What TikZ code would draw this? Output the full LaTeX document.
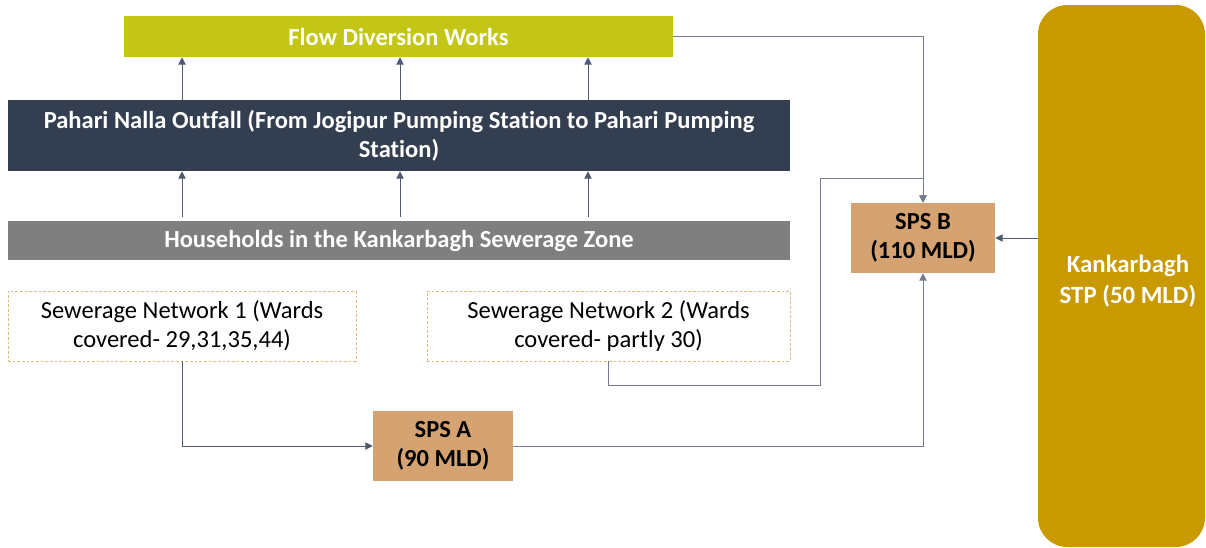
\documentclass[tikz,border=0pt]{standalone}
\usepackage{fontspec}
\setmainfont{Carlito}[Ligatures=NoCommon]
\usetikzlibrary{arrows.meta}
\definecolor{flowc}{RGB}{195,198,20}
\definecolor{pahc}{RGB}{51,63,80}
\definecolor{housec}{RGB}{127,127,127}
\definecolor{spsc}{RGB}{213,163,114}
\definecolor{stpc}{RGB}{200,154,0}
\definecolor{dashc}{RGB}{214,190,120}
\definecolor{arrc}{RGB}{80,92,110}
\tikzset{
  boxw/.style={draw=none, inner sep=0pt, align=center, text=white,
    font=\fontsize{18.4}{21.75}\selectfont\bfseries},
  netbox/.style={draw=dashc, line width=0.6pt, dash pattern=on 2pt off 1.5pt,
    inner sep=0pt, align=center, text=black, font=\fontsize{18.4}{21.75}\selectfont},
  spsbox/.style={fill=spsc, inner sep=0pt, align=center, text=black,
    font=\fontsize{18.4}{21.75}\selectfont\bfseries},
  arr/.style={draw=arrc, line width=0.75pt, -{Triangle[length=5.5pt,width=5.5pt]}},
  conn/.style={draw=arrc!80, line width=0.75pt, -{Triangle[length=5.5pt,width=5.5pt]}}
}
\begin{document}
\begin{tikzpicture}[x=0.75pt,y=-0.75pt]
\useasboundingbox (0,0) rectangle (1206,547);
\node[boxw, fill=flowc, minimum width=549*0.75pt, minimum height=41*0.75pt] (flow) at (398.5,36.5) {Flow Diversion Works};
\node[boxw, fill=pahc, minimum width=782*0.75pt, minimum height=71*0.75pt] (pahari) at (399,135.5) {Pahari Nalla Outfall (From Jogipur Pumping Station to Pahari Pumping\\Station)};
\node[boxw, fill=housec, minimum width=782*0.75pt, minimum height=39*0.75pt] (house) at (399,240.5) {Households in the Kankarbagh Sewerage Zone};
\node[netbox, minimum width=348*0.75pt, minimum height=70*0.75pt] (net1) at (182,326) {Sewerage Network 1 (Wards\\covered- 29,31,35,44)};
\node[netbox, minimum width=363*0.75pt, minimum height=70*0.75pt] (net2) at (608.5,326) {Sewerage Network 2 (Wards\\covered- partly 30)};
\node[spsbox, minimum width=140*0.75pt, minimum height=70*0.75pt] (spsa) at (443,446) {SPS A\\(90 MLD)};
\node[spsbox, minimum width=144*0.75pt, minimum height=70*0.75pt] (spsb) at (923,238) {SPS B\\(110 MLD)};
\node[boxw, fill=stpc, rounded corners=22pt, minimum width=167*0.75pt, minimum height=542*0.75pt] (stp) at (1121.5,276) {};
\node[boxw, text=white, font=\fontsize{18.6}{23.25}\selectfont\bfseries] (stptext) at (1128,281) {Kankarbagh\\STP (50 MLD)};
\coordinate (c1) at (182,0);
\coordinate (c2) at (400,0);
\coordinate (c3) at (588,0);
\coordinate (j1) at (820,385);
\coordinate (j2) at (820,178);
\foreach \c in {c1,c2,c3}{
  \draw[arr] (pahari.north -| \c) -- (flow.south -| \c);
  \draw[arr] ([yshift=3pt]house.north -| \c) -- (pahari.south -| \c);
}
\draw[arr] (net1.south) |- (spsa.west);
\draw[conn] (spsa.east) -| (spsb.south);
\draw[conn] (flow.east) -| (spsb.north);
\draw[conn] (net2.south) |- (j1) -- (j2) -| (spsb.north);
\draw[arr] (stp.west |- spsb.east) -- (spsb.east);
\end{tikzpicture}
\end{document}
